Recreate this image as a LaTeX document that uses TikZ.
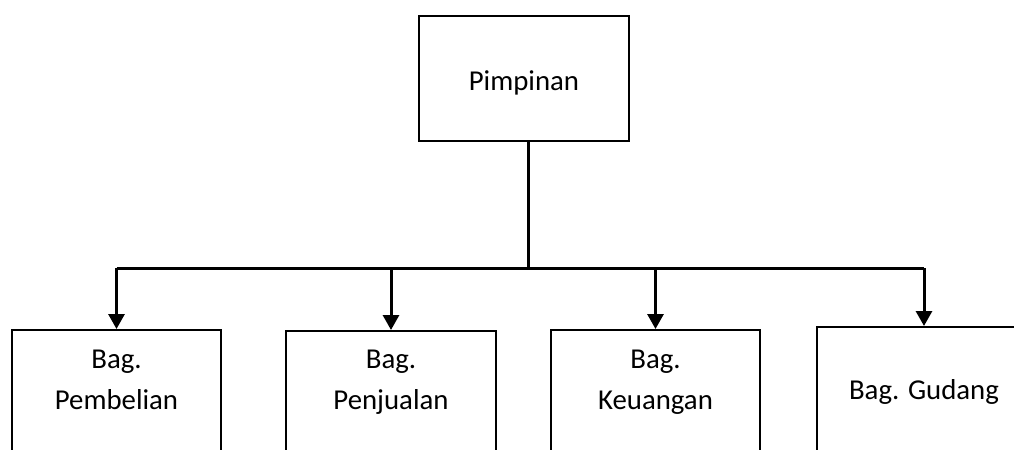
\documentclass[tikz,border=0pt]{standalone}
\usepackage{fontspec}
\setmainfont{Carlito}
\usetikzlibrary{arrows.meta}
\begin{document}
\begin{tikzpicture}[x=0.5pt,y=-0.5pt]
\tikzstyle{kotak} = [draw, rectangle, line width=1.1pt, inner sep=0pt, minimum height=150pt, anchor=north]
\tikzstyle{teks} = [align=center, inner sep=0pt, font=\fontsize{14.4}{20.5}\selectfont]
\tikzstyle{garis} = [line width=1.5pt]
\tikzstyle{panah} = [garis, -{Triangle[width=8pt,length=7.5pt]}]
\useasboundingbox (0,0) rectangle (1014,450);
\clip (0,0) rectangle (1014,450);
% pimpinan
\node[kotak, minimum width=105pt, minimum height=62.5pt] (pimpinan) at (524,15) {};
\node[teks, anchor=base] (tpimpinan) at (524,90) {Pimpinan};
% bagian
\node[kotak, minimum width=104.5pt] (beli) at (116.5,329) {};
\node[kotak, minimum width=105pt] (jual) at (391,330) {};
\node[kotak, minimum width=104.5pt] (uang) at (655.5,329) {};
\node[kotak, minimum width=107pt] (gudang) at (924,326) {};
\node[teks, anchor=north] (tbeli) at (116.5,350) {Bag.\\Pembelian};
\node[teks, anchor=north] (tjual) at (391,350) {Bag.\\Penjualan};
\node[teks, anchor=north] (tuang) at (655.5,350) {Bag.\\Keuangan};
\node[teks, anchor=base] (tgudang) at (924,399) {Bag. Gudang};
% garis
\coordinate (bus) at (528,268);
\draw[garis] (pimpinan.south -| bus) -- (bus);
\draw[garis] (beli.north |- bus) -- (gudang.north |- bus);
\foreach \n in {beli,jual,uang,gudang}
  \draw[panah] (\n.north |- bus) -- (\n.north);
\end{tikzpicture}
\end{document}
